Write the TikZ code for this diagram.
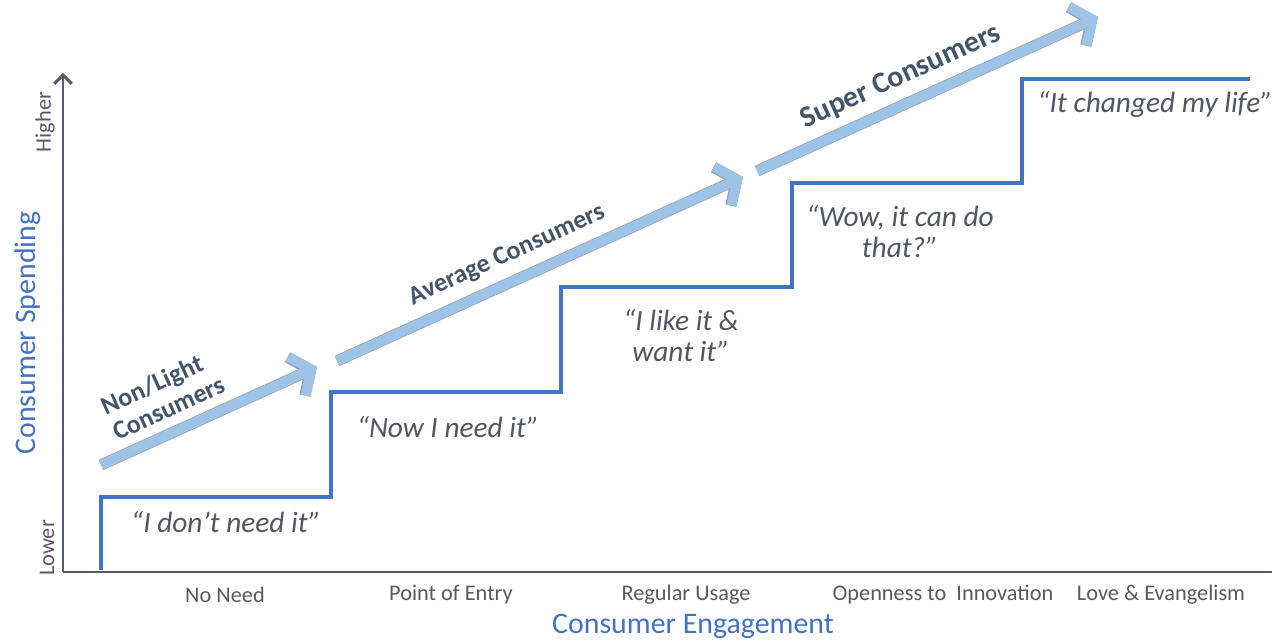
\documentclass[tikz,border=0pt]{standalone}
\usepackage{fontspec}
\setmainfont{Carlito}
\usetikzlibrary{arrows.meta}
\definecolor{axisgray}{RGB}{82,92,110}
\definecolor{stairblue}{RGB}{68,114,196}
\definecolor{arrowblue}{RGB}{157,195,230}
\definecolor{arrowedge}{RGB}{150,160,175}
\definecolor{slate}{RGB}{68,84,106}
\definecolor{quotegray}{RGB}{82,86,96}
\definecolor{tickgray}{RGB}{89,89,89}

\begin{document}
\begin{tikzpicture}[
    axisline/.style={draw=axisgray, line width=1.7pt},
    stairline/.style={draw=stairblue, line width=2.3pt, line join=miter},
    stagearrow/.style={draw=arrowblue, line width=5.6pt,
        -{Straight Barb[length=9pt, width=24pt, line width=5.6pt]},
        preaction={draw=arrowedge, line width=6.4pt,
        -{Straight Barb[length=9pt, width=24pt, line width=6.4pt]}}},
    stagelabel/.style={text=slate, font=\fontsize{14.8}{16}\selectfont\bfseries},
    quote/.style={text=quotegray, align=center, font=\fontsize{16.7}{17.6}\selectfont\itshape},
    tick/.style={text=tickgray, font=\fontsize{12.7}{14}\selectfont},
    axistitle/.style={text=stairblue, font=\fontsize{17}{19}\selectfont}
]
    \useasboundingbox (0,0) rectangle (25.5,12.82);

    % Axes
    \coordinate (origin) at (1.26,1.38);
    \coordinate (ytop) at (1.26,11.36);
    \coordinate (xend) at (25.44,1.38);
    \draw[axisline, -{Straight Barb[length=5pt, width=10pt]}] (origin) -- (ytop);
    \draw[axisline] (origin) -- (xend);

    % Staircase
    \draw[stairline] (2.02,1.42) -- (2.02,2.88) -- (6.62,2.88) -- (6.62,4.98)
        -- (11.22,4.98) -- (11.22,7.08) -- (15.84,7.08) -- (15.84,9.16)
        -- (20.44,9.16) -- (20.44,11.24) -- (25.0,11.24);

    % Consumer groups
    \coordinate (light start) at (2.02,3.52);
    \coordinate (light end) at (6.34,5.48);
    \coordinate (average start) at (6.74,5.60);
    \coordinate (average end) at (14.86,9.28);
    \coordinate (super start) at (15.14,9.40);
    \coordinate (super end) at (21.96,12.48);
    \draw[stagearrow] (light start) -- (light end);
    \draw[stagearrow] (average start) -- (average end);
    \draw[stagearrow] (super start) -- (super end);
    \node[stagelabel, align=left, rotate=24.4] (light) at (3.25,4.92) {Non/Light\\Consumers};
    \node[stagelabel, rotate=24.4] (average) at (10.14,7.71) {Average Consumers};
    \node[stagelabel, font=\fontsize{17}{19}\selectfont\bfseries, rotate=24.3] (super) at (18.02,11.28) {Super Consumers};

    % Quotes on each step
    \node[quote] (q1) at (4.52,2.38) {“I don’t need it”};
    \node[quote] (q2) at (8.96,4.28) {“Now I need it”};
    \node[quote] (q3) at (13.62,6.10) {“I like it \&\\want it”};
    \node[quote] (q4) at (18.0,8.18) {“Wow, it can do\\that?”};
    \node[quote] (q5) at (23.1,10.74) {“It changed my life”};

    % Stages along the x axis
    \node[tick] (need) at (4.5,0.92) {No Need};
    \node[tick] (entry) at (9.02,0.92) {Point of Entry};
    \node[tick] (usage) at (13.72,0.92) {Regular Usage};
    \node[tick] (open) at (18.86,0.92) {Openness to\ \ Innovation};
    \node[tick] (love) at (23.22,0.92) {Love \& Evangelism};
    \node[axistitle] (engagement) at (13.86,0.30) {Consumer Engagement};

    % y axis labels
    \node[tick, rotate=90] (higher) at (0.90,10.38) {Higher};
    \node[tick, rotate=90] (lower) at (0.94,1.86) {Lower};
    \node[axistitle, rotate=90] (spending) at (0.56,6.16) {Consumer Spending};
\end{tikzpicture}
\end{document}
